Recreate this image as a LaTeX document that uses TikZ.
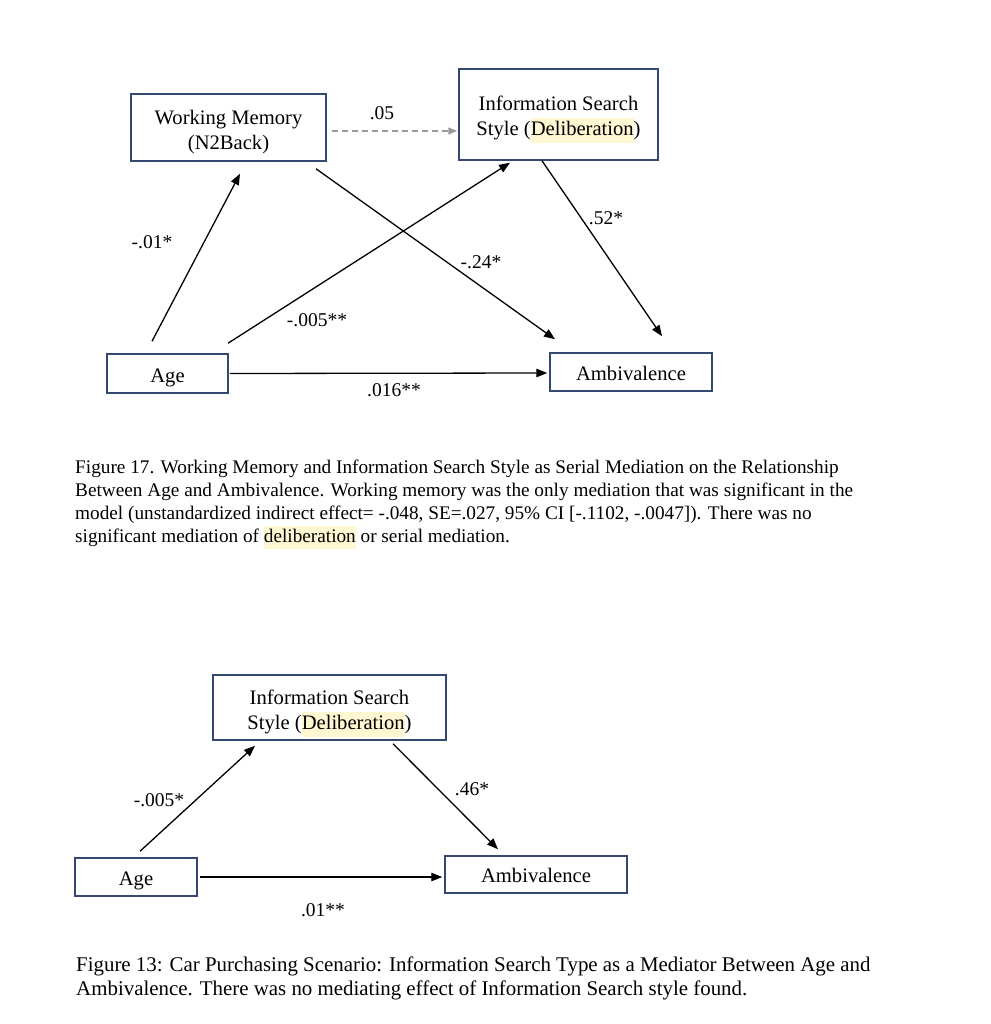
\documentclass[tikz,border=0pt]{standalone}
\usepackage{fontspec}
\setmainfont{Liberation Serif}
\usetikzlibrary{arrows.meta}
\definecolor{boxblue}{HTML}{34496F}
\definecolor{hlyellow}{HTML}{FFF6D2}
\definecolor{dashgray}{HTML}{9A9A9A}
\newcommand{\hlt}[1]{{\setlength{\fboxsep}{0pt}\colorbox{hlyellow}{\strut #1}}}
\newcommand{\dn}[2]{\raisebox{-#1pt}[\height][\depth]{#2}}
\begin{document}
\begin{tikzpicture}[x=1pt,y=-1pt,
  varbox/.style={draw=boxblue, line width=1.5pt, fill=white, align=center, inner sep=0pt,
    font=\fontsize{20.6}{24.5}\selectfont},
  arr/.style={line width=1.3pt, -{Triangle[length=11pt,width=8.5pt]}},
  darr/.style={line width=1.3pt, dashgray, dash pattern=on 6pt off 4pt, -{Triangle[length=9pt,width=7pt]}},
  lbl/.style={font=\fontsize{19.5}{23}\selectfont, inner sep=0pt},
  captext/.style={inner sep=0pt, anchor=north west, align=left}]
\fill[white] (0,0) rectangle (990,1024);
\useasboundingbox (0,0) rectangle (990,1024);
% ---------- top diagram ----------
\node[varbox, minimum width=195pt, minimum height=67pt] (wm) at (228.5,127.5) {\dn{4.5}{Working Memory}\\\dn{4.5}{(N2Back)}};
\node[varbox, minimum width=199pt, minimum height=91pt] (isd) at (558.5,114.5) {\dn{5}{Information Search}\\\dn{5}{Style (\hlt{Deliberation})}};
\node[varbox, minimum width=121pt, minimum height=39pt] (age) at (167.5,373.5) {\dn{4}{Age}};
\node[varbox, minimum width=162pt, minimum height=38pt] (amb) at (631,372) {\dn{1}{Ambivalence}};

\draw[arr] ([shift={(-15.5,-12)}]age.north) -- ([shift={(11.5,12)}]wm.south);
\draw[arr] ([shift={(87.5,7)}]wm.south) -- ([shift={(-76,-13)}]amb.north);
\draw[arr] ([shift={(60.5,-10)}]age.north) -- ([shift={(-48.5,2)}]isd.south);
\draw[arr] ([shift={(-16.5,0)}]isd.south) -- ([shift={(31,-16)}]amb.north);
\draw[arr] ([shift={(1,0)}]age.east) -- ([shift={(-2,1)}]amb.west);
\draw[darr] ([shift={(5,3.5)}]wm.east) -- ([shift={(-1,16.5)}]isd.west);

\node[lbl] (l05) at (382,113) {.05};
\node[lbl] (l01) at (152,242) {-.01*};
\node[lbl] (l24) at (481,262) {-.24*};
\node[lbl] (l52) at (606,218) {.52*};
\node[lbl] (l005) at (317,320) {-.005**};
\node[lbl] (l016) at (394,390) {.016**};

\node[captext, font=\fontsize{19.25}{23.1}\selectfont] (cap1) at (75,459.5) {Figure 17. Working Memory and Information Search Style as Serial Mediation on the Relationship\\
Between Age and Ambivalence. Working memory was the only mediation that was significant in the\\
model (unstandardized indirect effect= -.048, SE=.027, 95\% CI [-.1102, -.0047]). There was no\\
significant mediation of \hlt{deliberation} or serial mediation.};

% ---------- bottom diagram ----------
\node[varbox, minimum width=233pt, minimum height=65pt] (isd2) at (329.5,707.5) {\dn{6}{Information Search}\\\dn{6}{Style (\hlt{Deliberation})}};
\node[varbox, minimum width=122pt, minimum height=38pt] (age2) at (136,877) {\dn{4}{Age}};
\node[varbox, minimum width=182pt, minimum height=37pt] (amb2) at (536,874.5) {\dn{1}{Ambivalence}};

\draw[arr] ([shift={(4,-6)}]age2.north) -- ([shift={(-74.5,5)}]isd2.south);
\draw[arr] ([shift={(63.5,3)}]isd2.south) -- ([shift={(-38,-6)}]amb2.north);
\draw[arr] ([shift={(2,0)}]age2.east) -- ([shift={(-2,2.5)}]amb2.west);

\node[lbl] (m005) at (159,800) {-.005*};
\node[lbl] (m46) at (472,789) {.46*};
\node[lbl] (m01) at (323,910) {.01**};

\node[captext, font=\fontsize{20.9}{24}\selectfont] (cap2) at (76,957) {Figure 13: Car Purchasing Scenario: Information Search Type as a Mediator Between Age and\\
Ambivalence. There was no mediating effect of Information Search style found.};
\end{tikzpicture}
\end{document}
